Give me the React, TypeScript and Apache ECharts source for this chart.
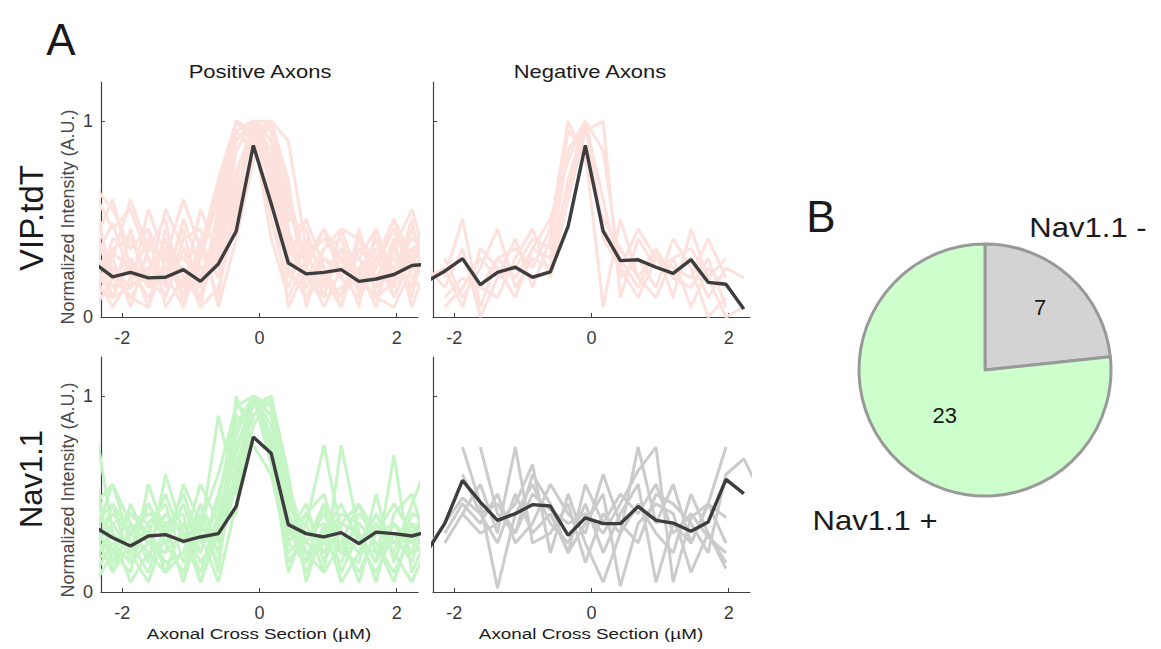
import React, { useEffect, useRef } from "react";
import * as echarts from "echarts";

// sample positions along the axonal cross section (µm)
const xs = [-2.39, -2.14, -1.88, -1.62, -1.37, -1.11, -0.86, -0.6, -0.34, -0.09, 0.17, 0.42, 0.68, 0.94, 1.19, 1.45, 1.7, 1.96, 2.22, 2.47];

const meanPosVip = [0.27, 0.205, 0.228, 0.2, 0.203, 0.242, 0.182, 0.271, 0.438, 0.876, 0.58, 0.276, 0.22, 0.228, 0.242, 0.182, 0.194, 0.217, 0.263, 0.27];
const meanNegVip = [0.184, 0.234, 0.298, 0.165, 0.228, 0.254, 0.203, 0.23, 0.464, 0.876, 0.438, 0.288, 0.292, 0.254, 0.223, 0.293, 0.177, 0.167, 0.041, null];
const meanPosNav = [0.33, 0.277, 0.235, 0.286, 0.293, 0.259, 0.281, 0.298, 0.437, 0.791, 0.709, 0.344, 0.298, 0.281, 0.303, 0.247, 0.306, 0.298, 0.286, 0.31];
const meanNegNav = [0.21, 0.349, 0.57, 0.459, 0.366, 0.4, 0.446, 0.439, 0.289, 0.379, 0.349, 0.349, 0.437, 0.366, 0.352, 0.31, 0.357, 0.575, 0.502, null];

const tracesPosVip = [
  [0.62, 0.45, 0.55, 0.3, 0.18, 0.25, 0.1, 0.35, 0.7, 1.0, 0.95, 0.4, 0.2, 0.15, 0.3, 0.22, 0.1, 0.18, 0.35, 0.4],
  [0.3, 0.48, 0.2, 0.4, 0.15, 0.5, 0.25, 0.3, 0.95, 0.85, 1.0, 0.55, 0.3, 0.45, 0.2, 0.35, 0.25, 0.5, 0.2, 0.3],
  [0.15, 0.1, 0.3, 0.05, 0.45, 0.2, 0.1, 0.55, 1.0, 0.9, 0.6, 0.25, 0.1, 0.2, 0.35, 0.12, 0.3, 0.15, 0.45, 0.25],
  [0.4, 0.25, 0.15, 0.55, 0.3, 0.1, 0.4, 0.2, 0.6, 1.0, 0.8, 0.3, 0.5, 0.25, 0.1, 0.4, 0.2, 0.35, 0.1, 0.55],
  [0.2, 0.35, 0.4, 0.2, 0.1, 0.35, 0.2, 0.45, 0.85, 1.0, 0.75, 0.2, 0.35, 0.1, 0.45, 0.2, 0.4, 0.1, 0.3, 0.15],
  [0.05, 0.2, 0.1, 0.25, 0.35, 0.15, 0.55, 0.3, 0.75, 0.95, 1.0, 0.45, 0.15, 0.3, 0.2, 0.1, 0.25, 0.45, 0.2, 0.1],
  [0.35, 0.1, 0.45, 0.15, 0.2, 0.45, 0.05, 0.15, 0.5, 1.0, 0.85, 0.6, 0.25, 0.05, 0.25, 0.3, 0.15, 0.25, 0.4, 0.35],
  [0.25, 0.3, 0.05, 0.35, 0.5, 0.05, 0.3, 0.6, 0.9, 1.0, 0.5, 0.15, 0.4, 0.2, 0.05, 0.45, 0.1, 0.05, 0.25, 0.2],
  [0.45, 0.15, 0.25, 0.1, 0.25, 0.3, 0.35, 0.1, 0.65, 0.9, 1.0, 0.7, 0.05, 0.35, 0.4, 0.15, 0.35, 0.3, 0.15, 0.45],
  [0.1, 0.4, 0.35, 0.45, 0.05, 0.2, 0.15, 0.4, 1.0, 0.95, 0.4, 0.1, 0.3, 0.4, 0.3, 0.05, 0.45, 0.2, 0.5, 0.05],
  [0.55, 0.2, 0.3, 0.15, 0.4, 0.1, 0.25, 0.25, 0.7, 1.0, 0.95, 0.35, 0.2, 0.1, 0.15, 0.25, 0.05, 0.4, 0.05, 0.3],
  [0.2, 0.05, 0.2, 0.3, 0.1, 0.4, 0.45, 0.05, 0.4, 0.8, 1.0, 0.9, 0.35, 0.25, 0.05, 0.35, 0.3, 0.1, 0.35, 0.25],
  [0.3, 0.25, 0.1, 0.05, 0.3, 0.25, 0.05, 0.5, 0.95, 1.0, 0.7, 0.25, 0.1, 0.3, 0.25, 0.15, 0.2, 0.3, 0.25, 0.5],
  [0.12, 0.33, 0.25, 0.18, 0.22, 0.05, 0.35, 0.2, 0.55, 1.0, 0.65, 0.05, 0.25, 0.15, 0.35, 0.3, 0.15, 0.4, 0.3, 0.18],
  [0.66, 0.55, 0.35, 0.45, 0.25, 0.15, 0.3, 0.65, 0.95, 1.0, 0.9, 0.6, 0.3, 0.2, 0.1, 0.25, 0.35, 0.25, 0.15, 0.35],
  [0.4, 0.6, 0.25, 0.2, 0.55, 0.35, 0.15, 0.3, 0.85, 1.0, 1.0, 0.65, 0.25, 0.45, 0.3, 0.2, 0.1, 0.35, 0.55, 0.25],
  [0.15, 0.3, 0.6, 0.35, 0.3, 0.6, 0.35, 0.7, 1.0, 0.95, 0.85, 0.3, 0.2, 0.35, 0.45, 0.4, 0.3, 0.5, 0.3, 0.45],
  [0.25, 0.1, 0.15, 0.25, 0.35, 0.3, 0.2, 0.45, 0.9, 1.0, 0.9, 0.5, 0.45, 0.15, 0.35, 0.3, 0.45, 0.15, 0.45, 0.3],
];

const tracesNegVip = [
  [null, 0.2, 0.5, 0.05, 0.3, 0.2, 0.35, 0.5, 0.8, 1.0, 0.4, 0.25, 0.45, 0.3, 0.2, 0.15, 0.3, 0.05, null, null],
  [0.25, 0.15, 0.35, 0.0, 0.2, 0.4, 0.15, 0.4, 0.95, 0.85, 0.05, 0.5, 0.2, 0.35, 0.1, 0.45, 0.2, 0.0, 0.05, null],
  [null, 0.3, 0.1, 0.25, 0.45, 0.15, 0.3, 0.25, 0.7, 1.0, 0.6, 0.2, 0.3, 0.15, 0.4, 0.25, 0.0, 0.1, null, null],
  [null, null, 0.3, 0.15, 0.1, 0.3, 0.45, 0.2, 0.6, 0.95, 1.0, 0.1, 0.4, 0.25, 0.3, 0.35, 0.2, 0.3, null, null],
  [0.2, 0.25, 0.05, 0.35, 0.25, 0.1, 0.35, 0.3, 0.85, 1.0, 0.45, 0.3, 0.15, 0.35, 0.2, 0.3, 0.1, 0.25, 0.2, null],
  [null, 0.1, 0.2, 0.15, 0.3, 0.35, 0.25, 0.45, 1.0, 0.8, 0.5, 0.35, 0.2, 0.1, 0.3, 0.05, 0.25, 0.15, null, null],
  [null, 0.05, 0.15, 0.3, 0.2, 0.25, 0.4, 0.35, 0.65, 1.0, 0.85, 0.25, 0.1, 0.3, 0.25, 0.2, 0.4, 0.2, null, null],
];

const tracesPosNav = [
  [0.84, 0.3, 0.2, 0.45, 0.25, 0.1, 0.35, 0.2, 0.55, 1.0, 0.85, 0.4, 0.15, 0.3, 0.2, 0.35, 0.25, 0.1, 0.3, 0.4],
  [0.3, 0.1, 0.35, 0.15, 0.6, 0.3, 0.2, 0.45, 0.95, 0.9, 1.0, 0.3, 0.25, 0.45, 0.1, 0.3, 0.15, 0.35, 0.2, 0.25],
  [0.45, 0.55, 0.25, 0.1, 0.35, 0.4, 0.05, 0.3, 0.6, 1.0, 0.7, 0.1, 0.35, 0.75, 0.3, 0.2, 0.4, 0.25, 0.35, 0.15],
  [0.15, 0.35, 0.4, 0.3, 0.15, 0.2, 0.45, 0.1, 0.85, 0.95, 1.0, 0.5, 0.2, 0.1, 0.75, 0.3, 0.15, 0.7, 0.1, 0.3],
  [0.5, 0.2, 0.1, 0.55, 0.3, 0.5, 0.25, 0.35, 0.4, 1.0, 0.95, 0.25, 0.4, 0.2, 0.3, 0.05, 0.35, 0.2, 0.45, 0.67],
  [0.25, 0.4, 0.3, 0.2, 0.1, 0.35, 0.3, 0.9, 0.5, 0.85, 1.0, 0.35, 0.1, 0.3, 0.45, 0.25, 0.1, 0.3, 0.25, 0.5],
  [0.1, 0.25, 0.15, 0.35, 0.45, 0.15, 0.4, 0.2, 1.0, 0.75, 0.6, 0.2, 0.3, 0.25, 0.15, 0.4, 0.3, 0.45, 0.3, 0.1],
  [0.35, 0.15, 0.45, 0.25, 0.2, 0.3, 0.1, 0.4, 0.7, 1.0, 0.9, 0.45, 0.25, 0.4, 0.2, 0.15, 0.5, 0.15, 0.4, 0.35],
  [0.2, 0.45, 0.3, 0.4, 0.35, 0.05, 0.35, 0.15, 0.65, 0.9, 1.0, 0.6, 0.05, 0.35, 0.25, 0.45, 0.2, 0.3, 0.15, 0.45],
  [0.4, 0.3, 0.05, 0.2, 0.25, 0.45, 0.2, 0.5, 0.8, 1.0, 0.65, 0.3, 0.45, 0.15, 0.35, 0.3, 0.05, 0.4, 0.5, 0.2],
  [0.6, 0.1, 0.25, 0.3, 0.5, 0.25, 0.3, 0.05, 0.45, 1.0, 0.95, 0.15, 0.3, 0.35, 0.05, 0.2, 0.35, 0.25, 0.2, 0.55],
  [0.25, 0.35, 0.2, 0.05, 0.3, 0.35, 0.15, 0.3, 0.9, 0.85, 1.0, 0.4, 0.2, 0.25, 0.4, 0.35, 0.25, 0.05, 0.35, 0.3],
  [0.05, 0.2, 0.4, 0.35, 0.1, 0.2, 0.45, 0.25, 0.6, 1.0, 0.8, 0.35, 0.35, 0.1, 0.25, 0.1, 0.3, 0.35, 0.25, 0.4],
  [0.35, 0.45, 0.15, 0.25, 0.4, 0.3, 0.05, 0.35, 0.75, 0.95, 1.0, 0.25, 0.15, 0.45, 0.3, 0.25, 0.4, 0.2, 0.05, 0.25],
  [0.3, 0.55, 0.35, 0.25, 0.2, 0.55, 0.35, 0.6, 0.95, 1.0, 0.75, 0.3, 0.4, 0.5, 0.2, 0.25, 0.2, 0.35, 0.25, 0.4],
  [0.2, 0.15, 0.3, 0.45, 0.3, 0.25, 0.55, 0.35, 0.85, 1.0, 0.9, 0.55, 0.25, 0.2, 0.35, 0.45, 0.3, 0.25, 0.35, 0.2],
];

const tracesNegNav = [
  [0.22, 0.35, 0.48, 0.4, 0.45, 0.3, 0.5, 0.42, 0.35, 0.4, 0.3, 0.45, 0.62, 0.74, 0.05, 0.38, 0.45, 0.74, null, null],
  [null, null, 0.74, 0.45, 0.02, 0.4, 0.55, 0.35, 0.25, 0.45, 0.2, 0.4, 0.55, 0.05, 0.35, 0.25, 0.45, 0.25, null, null],
  [null, null, null, 0.74, 0.4, 0.3, 0.6, 0.45, 0.2, 0.35, 0.5, 0.03, 0.35, 0.45, 0.4, 0.1, 0.3, 0.15, null, null],
  [null, 0.3, 0.45, 0.35, 0.5, 0.25, 0.35, 0.55, 0.4, 0.3, 0.6, 0.35, 0.25, 0.5, 0.45, 0.35, 0.2, 0.6, 0.68, 0.5],
  [null, null, 0.4, 0.55, 0.3, 0.74, 0.25, 0.3, 0.45, 0.15, 0.4, 0.3, 0.74, 0.35, 0.55, 0.25, 0.45, 0.38, null, null],
  [null, 0.25, 0.4, 0.3, 0.35, 0.45, 0.65, 0.2, 0.5, 0.25, 0.05, 0.3, 0.45, 0.3, 0.2, 0.5, 0.3, 0.12, null, null],
  [null, null, 0.6, 0.4, 0.25, 0.5, 0.3, 0.4, 0.2, 0.55, 0.35, 0.5, 0.4, 0.55, 0.3, 0.4, 0.28, 0.2, null, null],
];

const xTicks = [-2, 0, 2];
const yTicks = [0, 1];
const columnTitles = ["Positive Axons", "Negative Axons"];
const rowTitles = ["VIP.tdT", "Nav1.1"];
const yAxisTitle = "Normalized Intensity (A.U.)";
const xAxisTitle = "Axonal Cross Section (µM)";
const pieNames = ["Nav1.1 -", "Nav1.1 +"];
const pieValues = [7, 23];

const FONT = '"Liberation Sans", Arial, Helvetica, sans-serif';
const PINK = "#fde1dc";
const GREEN = "#c5f5c5";
const GRAY = "#cbcbcb";
const MEAN = "#3d3d3d";

export default function App() {
  const ref = useRef<HTMLDivElement>(null);
  useEffect(() => {
    if (!ref.current) return;
    const chart = echarts.init(ref.current, undefined, { renderer: "svg" });

    const grids = [
      { left: 101, top: 82, width: 317, height: 235 },
      { left: 433, top: 82, width: 317, height: 235 },
      { left: 101, top: 357, width: 317, height: 235 },
      { left: 433, top: 357, width: 317, height: 235 },
    ];
    const axisLine = { lineStyle: { color: "#404040", width: 1.2 } };
    const xAxes = grids.map((_, i) => ({
      type: "value",
      gridIndex: i,
      min: -2.31,
      max: 2.31,
      axisLine: { ...axisLine, onZero: false },
      axisTick: { inside: true, length: 4, customValues: xTicks, lineStyle: { color: "#404040" } },
      axisLabel: { customValues: xTicks, fontSize: 18, fontFamily: FONT, color: "#3a3a3a", margin: 12 },
      splitLine: { show: false },
    }));
    const yAxes = grids.map((_, i) => ({
      type: "value",
      gridIndex: i,
      min: 0,
      max: 1.2,
      axisLine: { ...axisLine, show: true, onZero: false },
      axisTick: { show: true, inside: true, length: 4, customValues: yTicks, lineStyle: { color: "#404040" } },
      axisLabel: { show: i % 2 === 0, customValues: yTicks, fontSize: 18, fontFamily: FONT, color: "#3a3a3a", margin: 8 },
      splitLine: { show: false },
    }));

    const zip = (ys: (number | null)[]) => xs.map((x, j) => [x, ys[j]]);
    const panels = [
      { traces: tracesPosVip, mean: meanPosVip, color: PINK },
      { traces: tracesNegVip, mean: meanNegVip, color: PINK },
      { traces: tracesPosNav, mean: meanPosNav, color: GREEN },
      { traces: tracesNegNav, mean: meanNegNav, color: GRAY },
    ];
    const series: any[] = [];
    panels.forEach((p, i) => {
      p.traces.forEach((t) => {
        series.push({
          type: "line",
          xAxisIndex: i,
          yAxisIndex: i,
          data: zip(t),
          showSymbol: false,
          symbol: "none",
          silent: true,
          clip: true,
          lineStyle: { color: p.color, width: 3 },
          z: 2,
        });
      });
      series.push({
        type: "line",
        xAxisIndex: i,
        yAxisIndex: i,
        data: zip(p.mean),
        symbol: "none",
        silent: true,
        clip: true,
        lineStyle: { color: MEAN, width: 3.4 },
        z: 3,
      });
    });

    series.push({
      type: "pie",
      center: [985, 370],
      radius: 126,
      startAngle: 90,
      clockwise: true,
      silent: true,
      data: pieNames.map((n, i) => ({
        name: n,
        value: pieValues[i],
        itemStyle: { color: i === 0 ? "#d3d3d3" : "#ccffcc" },
      })),
      itemStyle: { borderColor: "#999999", borderWidth: 3 },
      label: { position: "inside", formatter: "{c}", fontSize: 22, fontFamily: FONT, color: "#1a1a1a" },
      labelLine: { show: false },
      labelLayout: (params: any) => (params.dataIndex === 0 ? { dx: 11, dy: -13 } : { dx: 4, dy: -4 }),
    });

    const txt = (text: string, x: number, y: number, size: number, opts: any = {}) => ({
      type: "text",
      x,
      y,
      rotation: opts.rotation || 0,
      scaleX: opts.scaleX || 1,
      scaleY: opts.scaleY || 1,
      silent: true,
      style: {
        text,
        fontSize: size,
        fontFamily: FONT,
        fill: opts.fill || "#1a1a1a",
        textAlign: "center",
        textVerticalAlign: "middle",
      },
    });

    const graphic = [
      txt("A", 61, 39, 44),
      txt("B", 821, 216, 44),
      txt(columnTitles[0], 260, 72, 18, { scaleX: 1.22 }),
      txt(columnTitles[1], 590, 72, 18, { scaleX: 1.22 }),
      txt(rowTitles[0], 31, 218, 33, { rotation: Math.PI / 2 }),
      txt(rowTitles[1], 31, 479, 31, { rotation: Math.PI / 2 }),
      txt(yAxisTitle, 68, 217, 18, { rotation: Math.PI / 2, fill: "#4a4a4a" }),
      txt(yAxisTitle, 68, 490, 18, { rotation: Math.PI / 2, fill: "#4a4a4a" }),
      txt(xAxisTitle, 259, 634, 14.5, { scaleX: 1.3 }),
      txt(xAxisTitle, 591, 634, 14.5, { scaleX: 1.3 }),
      txt(pieNames[0], 1088, 228, 27, { scaleX: 1.15 }),
      txt(pieNames[1], 875, 521, 27, { scaleX: 1.15 }),
    ];

    chart.setOption({
      animation: false,
      backgroundColor: "#ffffff",
      grid: grids,
      xAxis: xAxes,
      yAxis: yAxes,
      series,
      graphic,
    });
    return () => chart.dispose();
  }, []);
  return <div ref={ref} style={{ position: "fixed", left: 0, top: 0, width: 1161, height: 649 }} />;
}
